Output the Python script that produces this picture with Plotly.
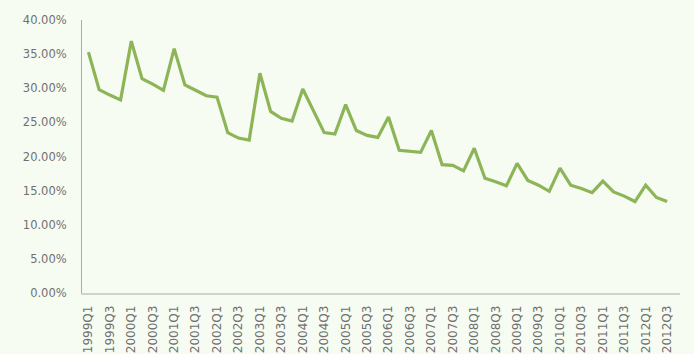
import plotly.graph_objects as go

quarters = [f"{y}Q{q}" for y in range(1999, 2013) for q in range(1, 5)][:55]

values = [
    35.3, 29.8, 29.0, 28.3,
    36.9, 31.4, 30.6, 29.7,
    35.8, 30.5, 29.7, 28.9,
    28.7, 23.5, 22.7, 22.4,
    32.2, 26.6, 25.6, 25.2,
    29.9, 26.8, 23.5, 23.3,
    27.6, 23.8, 23.1, 22.8,
    25.8, 20.9, 20.7, 20.6,
    23.8, 18.8, 18.7, 17.9,
    21.2, 16.8, 16.3, 15.7,
    19.0, 16.5, 15.8, 14.9,
    18.3, 15.8, 15.3, 14.7,
    16.4, 14.8, 14.2, 13.4,
    15.8, 14.0, 13.4,
]

tick_labels = quarters[::2]
y_ticks = [0, 5, 10, 15, 20, 25, 30, 35, 40]

fig = go.Figure()
fig.add_trace(go.Scatter(
    x=quarters, y=values, mode="lines",
    line=dict(color="#8db457", width=3.2),
    hoverinfo="skip",
))

bg = "#f6fcf2"
txt = "#707070"
fig.update_layout(
    width=694, height=354,
    margin=dict(l=82, r=14, t=20, b=61),
    paper_bgcolor=bg, plot_bgcolor=bg,
    showlegend=False,
    font=dict(family="DejaVu Sans", color=txt),
)
fig.update_xaxes(
    type="category",
    tickmode="array", tickvals=tick_labels, ticktext=tick_labels,
    tickangle=-90, tickfont=dict(size=12, color=txt),
    showgrid=False, showline=True, linecolor="#d0d0d0", linewidth=1.5,
    ticks="", automargin=False, range=[-0.6, 55.2],
    ticklabelstandoff=6,
)
fig.update_yaxes(
    range=[0, 40], tickmode="array", tickvals=y_ticks,
    ticktext=[f"{v:.2f}%" for v in y_ticks],
    tickfont=dict(size=11.5, color=txt),
    showgrid=False, showline=True, linecolor="#aaaaaa", linewidth=1,
    ticks="", zeroline=False, automargin=False,
    ticklabelstandoff=12,
)

fig.write_html("out.html")
